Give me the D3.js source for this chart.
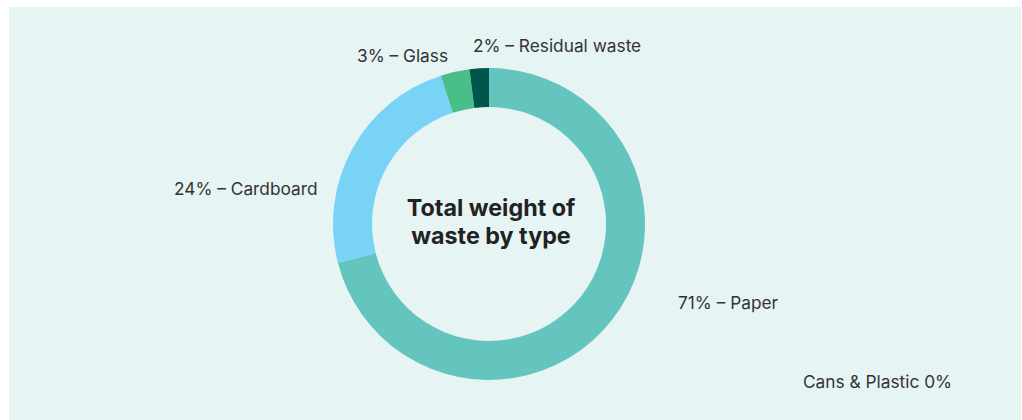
<!DOCTYPE html>
<html>
<head>
<script src="https://cdn.jsdelivr.net/npm/d3@7"></script>
<style>
body { margin: 0; background: #fff; }
text { font-family: Inter, "Noto Sans", sans-serif; }
</style>
</head>
<body>
<script>
// waste split, by weight
var categories = ["Paper", "Cardboard", "Glass", "Residual waste", "Cans & Plastic"];
var shares = [71, 24, 3, 2, 0];
var labels = ["71% – Paper", "24% – Cardboard", "3% – Glass", "2% – Residual waste", "Cans & Plastic 0%"];
var colors = ["#63c5bd", "#78d3f6", "#4abe89", "#00564b", "#f3a55b"];
var title = ["Total weight of", "waste by type"];

// label anchor points (layout only)
var labelPos = [[678, 309], [174, 195], [357, 62], [473, 52], [803, 388]];

var width = 1022, height = 420;
var cx = 489, cy = 224, outerR = 156, innerR = 117;

var svg = d3.select("body").append("svg")
	.attr("width", width)
	.attr("height", height);

svg.append("rect")
	.attr("x", 9).attr("y", 7)
	.attr("width", width - 10).attr("height", height - 7)
	.attr("fill", "#e6f4f3");

var data = categories.map(function(c, i){ return {name: c, value: shares[i], i: i}; });

var pie = d3.pie().sort(null).value(function(d){ return d.value; });
var arc = d3.arc().innerRadius(innerR).outerRadius(outerR);

var g = svg.append("g").attr("transform", "translate(" + cx + "," + cy + ")");
g.selectAll("path")
	.data(pie(data))
	.enter()
	.append("path")
	.attr("d", arc)
	.attr("fill", function(d){ return colors[d.data.i]; });

svg.selectAll("text.lbl")
	.data(data)
	.enter()
	.append("text")
	.attr("class", "lbl")
	.attr("x", function(d){ return labelPos[d.i][0]; })
	.attr("y", function(d){ return labelPos[d.i][1]; })
	.attr("font-size", 17.3)
	.attr("fill", "#333333")
	.text(function(d){ return labels[d.i]; });

svg.selectAll("text.title")
	.data(title)
	.enter()
	.append("text")
	.attr("class", "title")
	.attr("x", cx + 2)
	.attr("y", function(d, i){ return 216 + i * 28; })
	.attr("text-anchor", "middle")
	.attr("font-size", 23.3)
	.attr("font-weight", 700)
	.attr("fill", "#222222")
	.text(function(d){ return d; });
</script>
</body>
</html>
